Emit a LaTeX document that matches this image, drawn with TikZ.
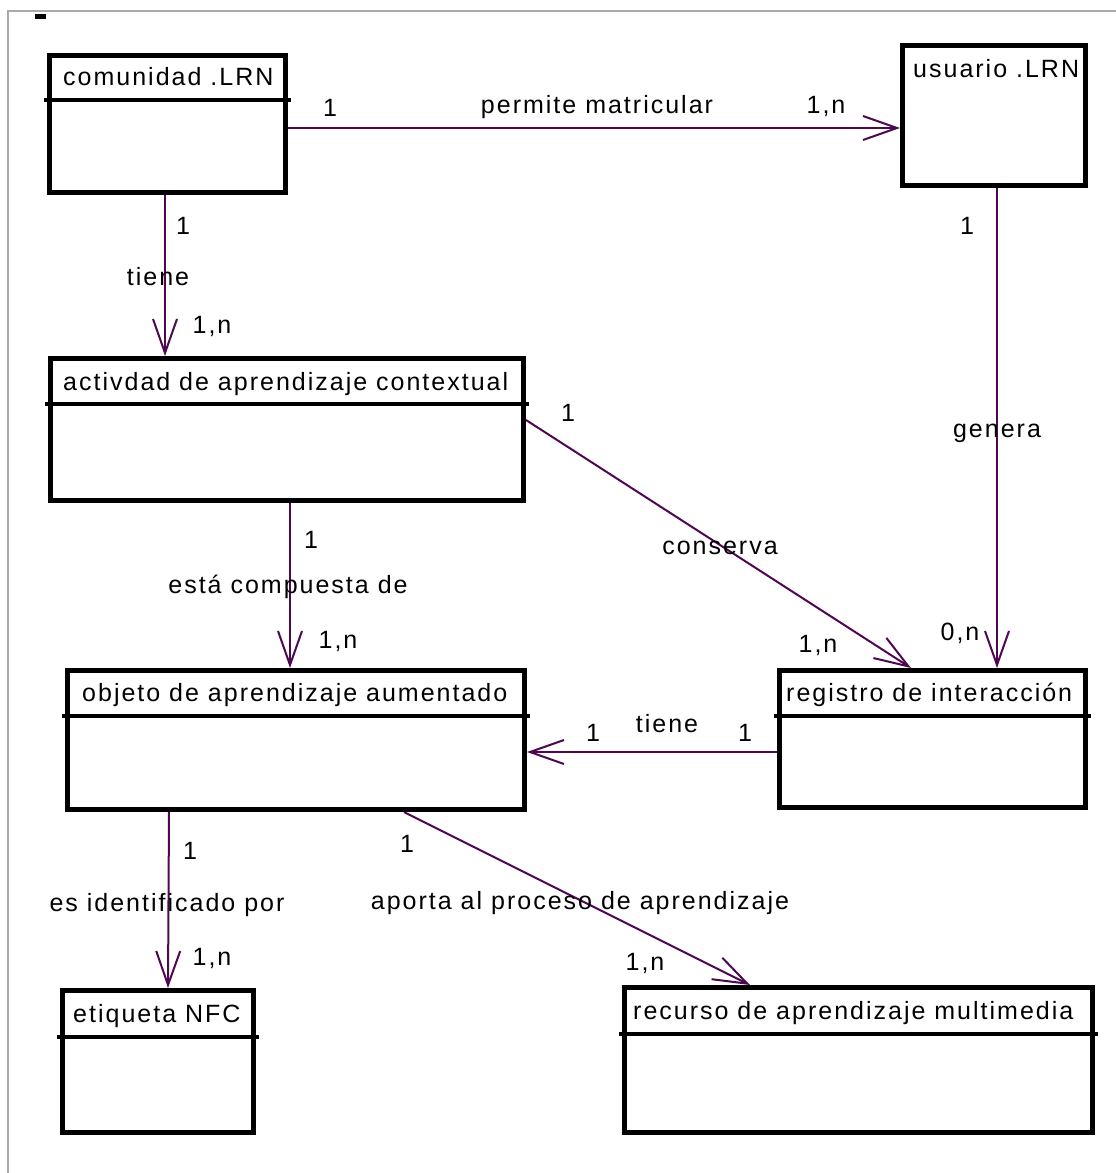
\documentclass[tikz,border=0pt]{standalone}
\usepackage{fontspec}
\setmainfont[LetterSpace=8]{Liberation Sans}
\usepackage{tikz}
\usetikzlibrary{positioning,calc,arrows.meta}
\definecolor{linkcol}{RGB}{78,8,82}
\definecolor{framecol}{RGB}{170,170,170}
\tikzset{classbox/.style={draw,line width=5pt,inner sep=0pt},
         title/.style={inner sep=0pt,anchor=base west},
         divider/.style={line width=4pt},
         lbl/.style={inner sep=0pt}
}
\tikzstyle{arrow} = [linkcol,line width=2pt,line join=round,-{Straight Barb[length=34pt,width=24pt]}]

\begin{document}
\begin{tikzpicture}[x=1pt,y=-1pt,font=\fontsize{25}{30}\selectfont]
\useasboundingbox (0,0) rectangle (1116,1173);
\draw[framecol,line width=2pt] (8,1173) -- (8,11) -- (1116,11);
\fill (35,14) rectangle (46,19);

\node[classbox,minimum width=236pt,minimum height=137pt] (comunidad) at (167.5,124) {};
\node[classbox,minimum width=183pt,minimum height=140pt] (usuario) at (994,115.5) {};
\node[classbox,minimum width=473pt,minimum height=142pt] (actividad) at (287,429.5) {};
\node[classbox,minimum width=457pt,minimum height=139pt] (objeto) at (296,740) {};
\node[classbox,minimum width=306pt,minimum height=137pt] (registro) at (932.5,739) {};
\node[classbox,minimum width=191pt,minimum height=142pt] (etiqueta) at (158,1061.5) {};
\node[classbox,minimum width=468pt,minimum height=145pt] (recurso) at (858.5,1060) {};

\node[title] (comunidadT) at ([xshift=16pt,yshift=-32pt]comunidad.north west) {comunidad .LRN};
\node[title] (usuarioT) at ([xshift=13pt,yshift=-34pt]usuario.north west) {usuario .LRN};
\node[title] (actividadT) at ([xshift=15pt,yshift=-34pt]actividad.north west) {activdad de aprendizaje contextual};
\node[title] (objetoT) at ([xshift=17pt,yshift=-33pt]objeto.north west) {objeto de aprendizaje aumentado};
\node[title] (registroT) at ([xshift=9pt,yshift=-33pt]registro.north west) {registro de interacción};
\node[title] (etiquetaT) at ([xshift=13pt,yshift=-34pt]etiqueta.north west) {etiqueta NFC};
\node[title] (recursoT) at ([xshift=11pt,yshift=-34pt]recurso.north west) {recurso de aprendizaje multimedia};

\draw[divider] ([xshift=-3pt,yshift=-47pt]comunidad.north west) -- ([xshift=3pt,yshift=-47pt]comunidad.north east);
\draw[divider] ([xshift=-3pt,yshift=-48pt]actividad.north west) -- ([xshift=3pt,yshift=-48pt]actividad.north east);
\draw[divider] ([xshift=-3pt,yshift=-48pt]objeto.north west) -- ([xshift=3pt,yshift=-48pt]objeto.north east);
\draw[divider] ([xshift=-3pt,yshift=-48pt]registro.north west) -- ([xshift=3pt,yshift=-48pt]registro.north east);
\draw[divider] ([xshift=-3pt,yshift=-49pt]etiqueta.north west) -- ([xshift=3pt,yshift=-49pt]etiqueta.north east);
\draw[divider] ([xshift=-3pt,yshift=-49pt]recurso.north west) -- ([xshift=3pt,yshift=-49pt]recurso.north east);

\draw[arrow] ([yshift=-4pt]comunidad.east) -- ([yshift=-12.5pt]usuario.west);
\draw[arrow] ([xshift=-2.5pt]comunidad.south) -- ([xshift=-122pt]actividad.north);
\draw[arrow] ([xshift=3pt]usuario.south) -- ([xshift=64.5pt]registro.north);
\draw[arrow] ([yshift=9.5pt]actividad.east) -- ([xshift=-21.5pt]registro.north);
\draw[arrow] ([xshift=3pt]actividad.south) -- ([xshift=-6pt]objeto.north);
\draw[arrow] ([yshift=-13pt]registro.west) -- ([yshift=-12pt]objeto.east);
\draw[arrow] ([xshift=-127pt]objeto.south) -- ([xshift=10pt]etiqueta.north);
\draw[arrow] ([xshift=108pt]objeto.south) -- ([xshift=-108.5pt]recurso.north);

\node[lbl] (matA) at (330,108) {1};
\node[lbl] (mat) at (597,107) {permite matricular};
\node[lbl] (matB) at (826,106) {1,n};
\node[lbl] (tieneA) at (183,226) {1};
\node[lbl] (tiene) at (158,277) {tiene};
\node[lbl] (tieneB) at (212,326) {1,n};
\node[lbl] (generaA) at (967,226) {1};
\node[lbl] (genera) at (997,433) {genera};
\node[lbl] (generaB) at (960,633) {0,n};
\node[lbl] (conservaA) at (568,413) {1};
\node[lbl] (conserva) at (720,548) {conserva};
\node[lbl] (conservaB) at (818,645) {1,n};
\node[lbl] (compA) at (311,540) {1};
\node[lbl] (comp) at (288,587) {está compuesta de};
\node[lbl] (compB) at (338,641) {1,n};
\node[lbl] (regA) at (593,733) {1};
\node[lbl] (reg) at (667,724) {tiene};
\node[lbl] (regB) at (745,733) {1};
\node[lbl] (idA) at (190,851) {1};
\node[lbl] (id) at (167,905) {es identificado por};
\node[lbl] (idB) at (212,958) {1,n};
\node[lbl] (aportaA) at (407,844) {1};
\node[lbl] (aporta) at (580,903) {aporta al proceso de aprendizaje};
\node[lbl] (aportaB) at (645,963) {1,n};

\end{tikzpicture}
\end{document}
